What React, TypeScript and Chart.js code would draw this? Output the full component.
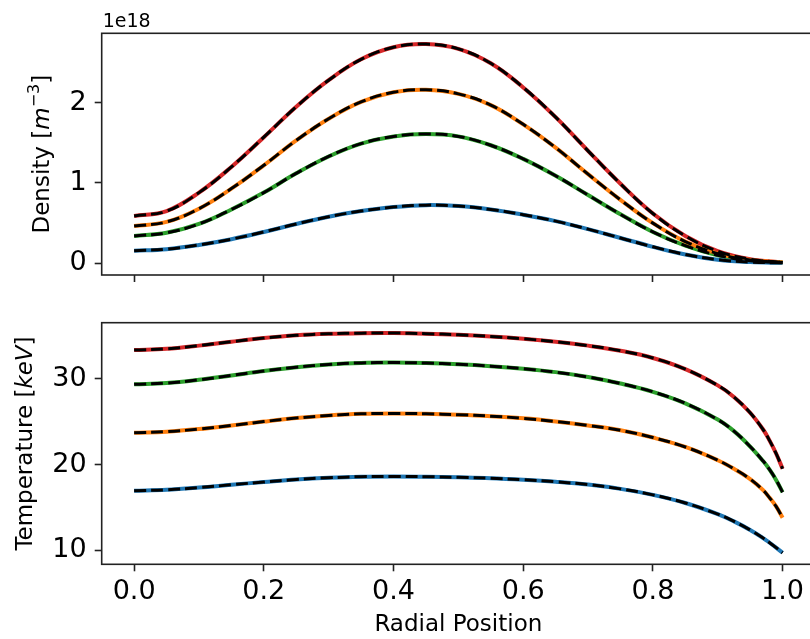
import React, { useEffect, useRef } from "react";
import { Chart, registerables } from "chart.js";

Chart.register(...registerables);

// Radial grid for the density profiles
const DENSITY_R = [0, 0.05, 0.1, 0.15, 0.2, 0.25, 0.3, 0.35, 0.4, 0.45, 0.5, 0.55, 0.6, 0.65, 0.7, 0.75, 0.8, 0.85, 0.9, 0.95, 1.0];

// Density profiles, in units of 1e18 m^-3
const DENSITY_C0 = [0.157, 0.176, 0.228, 0.3, 0.39, 0.49, 0.58, 0.65, 0.7, 0.724, 0.712, 0.67, 0.605, 0.525, 0.425, 0.315, 0.205, 0.11, 0.045, 0.015, 0.005];
const DENSITY_C1 = [0.465, 0.515, 0.68, 0.93, 1.22, 1.53, 1.8, 2.01, 2.13, 2.16, 2.11, 1.97, 1.73, 1.44, 1.11, 0.79, 0.5, 0.27, 0.12, 0.04, 0.01];
const DENSITY_C2 = [0.34, 0.38, 0.49, 0.67, 0.88, 1.12, 1.33, 1.49, 1.58, 1.61, 1.58, 1.47, 1.3, 1.09, 0.85, 0.61, 0.39, 0.22, 0.1, 0.03, 0.01];
const DENSITY_C3 = [0.59, 0.65, 0.88, 1.2, 1.57, 1.95, 2.28, 2.54, 2.69, 2.73, 2.67, 2.49, 2.19, 1.82, 1.4, 0.99, 0.62, 0.34, 0.15, 0.05, 0.01];

// Radial grid for the temperature profiles (finer near the edge)
const TEMP_R = [0, 0.05, 0.1, 0.15, 0.2, 0.25, 0.3, 0.35, 0.4, 0.45, 0.5, 0.55, 0.6, 0.65, 0.7, 0.75, 0.8, 0.85, 0.9, 0.925, 0.95, 0.97, 0.98, 0.99, 1.0];

// Temperature profiles, keV
const TEMP_C0 = [16.94, 17.04, 17.3, 17.63, 17.95, 18.25, 18.45, 18.57, 18.6, 18.57, 18.5, 18.4, 18.22, 17.98, 17.65, 17.15, 16.45, 15.5, 14.2, 13.35, 12.35, 11.4, 10.85, 10.28, 9.68];
const TEMP_C1 = [23.72, 23.84, 24.14, 24.56, 25.02, 25.43, 25.73, 25.92, 25.97, 25.93, 25.82, 25.65, 25.4, 25.03, 24.57, 24.0, 23.15, 22.05, 20.5, 19.5, 18.3, 17.0, 16.1, 15.1, 13.77];
const TEMP_C2 = [29.38, 29.52, 29.9, 30.41, 30.93, 31.38, 31.7, 31.88, 31.92, 31.86, 31.72, 31.5, 31.2, 30.8, 30.23, 29.47, 28.5, 27.15, 25.25, 23.9, 22.1, 20.4, 19.4, 18.2, 16.76];
const TEMP_C3 = [33.39, 33.52, 33.9, 34.36, 34.78, 35.1, 35.28, 35.36, 35.37, 35.3, 35.17, 34.97, 34.7, 34.35, 33.9, 33.3, 32.45, 31.15, 29.25, 27.9, 26.05, 24.09, 22.79, 21.29, 19.5];

// Tick values
const X_TICKS = [0, 0.2, 0.4, 0.6, 0.8, 1.0];
const DENSITY_TICKS = [0, 1, 2];
const TEMP_TICKS = [10, 20, 30];
const DENSITY_OFFSET_TEXT = "1e18";

const COLORS = ["#1f77b4", "#ff7f0e", "#2ca02c", "#d62728"];
const FONT = '"DejaVu Sans", "Liberation Sans", sans-serif';

const CANVAS_W = 830;
const AXIS_LEFT = 101.7;
const AXIS_RIGHT = 815;

type Seg = { text: string; font: string; dy?: number };

function drawVerticalText(ctx: CanvasRenderingContext2D, segs: Seg[], baselineX: number, centerY: number) {
  ctx.save();
  ctx.translate(baselineX, centerY);
  ctx.rotate(-Math.PI / 2);
  let total = 0;
  for (const s of segs) {
    ctx.font = s.font;
    total += ctx.measureText(s.text).width;
  }
  let x = -total / 2;
  ctx.fillStyle = "#000";
  ctx.textAlign = "left";
  ctx.textBaseline = "alphabetic";
  for (const s of segs) {
    ctx.font = s.font;
    ctx.fillText(s.text, x, s.dy || 0);
    x += ctx.measureText(s.text).width;
  }
  ctx.restore();
}

function buildDatasets(xs: number[], series: number[][]) {
  const sets: any[] = [];
  series.forEach((ys, i) => {
    const data = xs.map((x, j) => ({ x, y: ys[j] }));
    // solid coloured profile
    sets.push({
      data,
      borderColor: COLORS[i],
      borderWidth: 4,
      pointRadius: 0,
      tension: 0.4,
      order: 10,
    });
    // black dashed fit drawn over it
    sets.push({
      data,
      borderColor: "#000",
      borderWidth: 3,
      borderDash: [12, 5],
      pointRadius: 0,
      tension: 0.4,
      order: 1,
    });
  });
  return sets;
}

type PanelSpec = {
  height: number;
  areaTop: number;
  areaBottom: number;
  yMin: number;
  yMax: number;
  yTicks: number[];
  showXLabels: boolean;
  datasets: any[];
  decorate: (ctx: CanvasRenderingContext2D, area: any) => void;
};

function makeChart(canvas: HTMLCanvasElement, spec: PanelSpec) {
  const framePlugin = {
    id: "frameAndLabels",
    afterDraw(chart: any) {
      const { ctx, chartArea: a } = chart;
      ctx.save();
      ctx.strokeStyle = "#222";
      ctx.lineWidth = 1.6;
      ctx.strokeRect(a.left, a.top, a.right - a.left, a.bottom - a.top);
      ctx.restore();
      spec.decorate(ctx, a);
    },
  };

  return new Chart(canvas, {
    type: "line",
    data: { datasets: spec.datasets },
    plugins: [framePlugin],
    options: {
      animation: false,
      responsive: false,
      devicePixelRatio: 1,
      layout: { padding: { top: spec.areaTop, right: CANVAS_W - AXIS_RIGHT, left: 0, bottom: 0 } },
      plugins: { legend: { display: false }, tooltip: { enabled: false } },
      scales: {
        x: {
          type: "linear",
          min: -0.05,
          max: 1.05,
          afterBuildTicks: (s: any) => {
            s.ticks = X_TICKS.map((v) => ({ value: v }));
          },
          afterFit: (s: any) => {
            s.height = spec.height - spec.areaBottom;
            s.paddingLeft = 0;
            s.paddingRight = 0;
          },
          ticks: {
            display: spec.showXLabels,
            callback: (v: any) => Number(v).toFixed(1),
            font: { family: FONT, size: 27 },
            color: "#000",
            padding: 4,
            maxRotation: 0,
          },
          grid: { drawOnChartArea: false, drawTicks: true, tickLength: 7, tickColor: "#222", tickWidth: 1.6 },
          border: { display: false },
        },
        y: {
          type: "linear",
          min: spec.yMin,
          max: spec.yMax,
          afterBuildTicks: (s: any) => {
            s.ticks = spec.yTicks.map((v) => ({ value: v }));
          },
          afterFit: (s: any) => {
            s.width = AXIS_LEFT;
            s.paddingTop = 0;
            s.paddingBottom = 0;
          },
          ticks: {
            callback: (v: any) => String(v),
            font: { family: FONT, size: 27 },
            color: "#000",
            padding: 8,
          },
          grid: { drawOnChartArea: false, drawTicks: true, tickLength: 7, tickColor: "#222", tickWidth: 1.6 },
          border: { display: false },
        },
      },
    } as any,
  });
}

export default function App() {
  const topRef = useRef<HTMLCanvasElement>(null);
  const bottomRef = useRef<HTMLCanvasElement>(null);

  useEffect(() => {
    const top = makeChart(topRef.current!, {
      height: 300,
      areaTop: 33.3,
      areaBottom: 275,
      yMin: -0.146,
      yMax: 2.864,
      yTicks: DENSITY_TICKS,
      showXLabels: false,
      datasets: buildDatasets(DENSITY_R, [DENSITY_C0, DENSITY_C1, DENSITY_C2, DENSITY_C3]),
      decorate: (ctx, a) => {
        ctx.save();
        ctx.fillStyle = "#000";
        ctx.font = `19px ${FONT}`;
        ctx.textAlign = "left";
        ctx.textBaseline = "alphabetic";
        ctx.fillText(DENSITY_OFFSET_TEXT, a.left + 1, 26.7);
        ctx.restore();
        drawVerticalText(
          ctx,
          [
            { text: "Density [", font: `23px ${FONT}` },
            { text: "m", font: `italic 23px ${FONT}` },
            { text: "\u22123", font: `16px ${FONT}`, dy: -10 },
            { text: "]", font: `23px ${FONT}` },
          ],
          48.5,
          (a.top + a.bottom) / 2
        );
      },
    });

    const bottom = makeChart(bottomRef.current!, {
      height: 339,
      areaTop: 22.7,
      areaBottom: 264.3,
      yMin: 8.33,
      yMax: 36.58,
      yTicks: TEMP_TICKS,
      showXLabels: true,
      datasets: buildDatasets(TEMP_R, [TEMP_C0, TEMP_C1, TEMP_C2, TEMP_C3]),
      decorate: (ctx, a) => {
        drawVerticalText(
          ctx,
          [
            { text: "Temperature [", font: `23px ${FONT}` },
            { text: "keV", font: `italic 23px ${FONT}` },
            { text: "]", font: `23px ${FONT}` },
          ],
          32,
          (a.top + a.bottom) / 2
        );
        ctx.save();
        ctx.fillStyle = "#000";
        ctx.font = `23px ${FONT}`;
        ctx.textAlign = "center";
        ctx.textBaseline = "alphabetic";
        ctx.fillText("Radial Position", (a.left + a.right) / 2, 330.5);
        ctx.restore();
      },
    });

    return () => {
      top.destroy();
      bottom.destroy();
    };
  }, []);

  return (
    <div
      style={{
        position: "fixed",
        left: 0,
        top: 0,
        width: 810,
        height: 639,
        overflow: "hidden",
        background: "#fff",
      }}
    >
      <canvas ref={topRef} width={CANVAS_W} height={300} style={{ position: "absolute", left: 0, top: 0 }} />
      <canvas ref={bottomRef} width={CANVAS_W} height={339} style={{ position: "absolute", left: 0, top: 300 }} />
    </div>
  );
}
